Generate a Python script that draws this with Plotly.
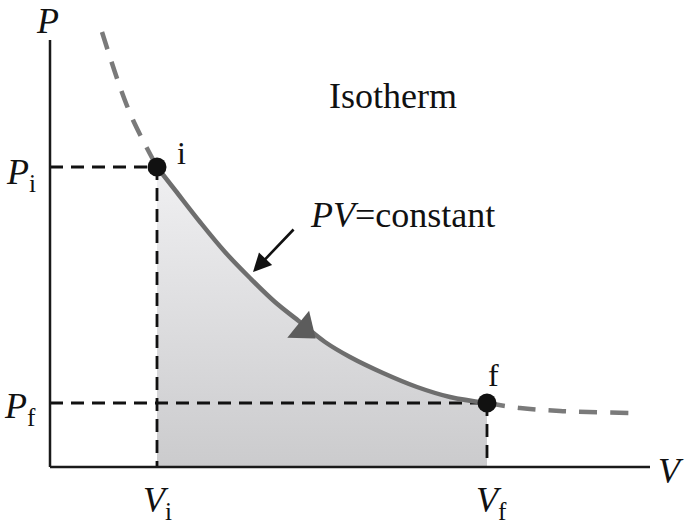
import plotly.graph_objects as go

# ---- data (V, P in arbitrary units) ----
V_i, P_i = 107, 300
V_f, P_f = 437, 64

upper_V = [52, 70, 83, 107]
upper_P = [435, 380, 347, 300]

solid_V = [107, 125, 150, 175, 200, 225, 250, 275, 300, 333, 367, 400, 437]
solid_P = [300, 277, 245, 215, 189, 165, 145, 125, 110, 94, 80, 70, 64]

lower_V = [437, 470, 510, 580]
lower_P = [64, 59, 56, 54]

arrow_V = [254]
arrow_P = [138]

V_max, P_max = 600, 427

SERIF = "Liberation Serif, Times New Roman, serif"

fig = go.Figure()

# shaded work area under the solid isotherm
fig.add_trace(go.Scatter(
    x=solid_V, y=solid_P, mode="lines", line=dict(width=0, shape="spline"),
    fill="tozeroy", fillcolor="#dedee0",
    fillgradient=dict(type="vertical", colorscale=[[0, "#cbcbcd"], [1, "#f0f0f2"]]),
    hoverinfo="skip", showlegend=False))

# axes
fig.add_shape(type="line", x0=0, y0=0, x1=0, y1=P_max, line=dict(color="#1a1a1a", width=2.5))
fig.add_shape(type="line", x0=0, y0=0, x1=V_max, y1=0, line=dict(color="#1a1a1a", width=2.5))

# dashed guide lines
guide = dict(color="#111111", width=2.8, dash="13px,8px")
fig.add_trace(go.Scatter(x=[0, V_i], y=[P_i, P_i], mode="lines", line=guide, showlegend=False, hoverinfo="skip"))
fig.add_trace(go.Scatter(x=[0, V_f], y=[P_f, P_f], mode="lines", line=guide, showlegend=False, hoverinfo="skip"))
fig.add_trace(go.Scatter(x=[V_i, V_i], y=[P_i, 0], mode="lines", line=guide, showlegend=False, hoverinfo="skip"))
fig.add_trace(go.Scatter(x=[V_f, V_f], y=[P_f, 0], mode="lines", line=guide, showlegend=False, hoverinfo="skip"))

# isotherm curve
dash_line = dict(color="#7a7a7a", width=4.5, dash="18px,13px", shape="spline")
fig.add_trace(go.Scatter(x=upper_V, y=upper_P, mode="lines", line=dash_line, showlegend=False, hoverinfo="skip"))
fig.add_trace(go.Scatter(x=lower_V, y=lower_P, mode="lines", line=dash_line, showlegend=False, hoverinfo="skip"))
fig.add_trace(go.Scatter(x=solid_V, y=solid_P, mode="lines",
                         line=dict(color="#6e6e6e", width=4.5, shape="spline"),
                         showlegend=False, hoverinfo="skip"))

# direction arrowhead on the curve
fig.add_trace(go.Scatter(x=arrow_V, y=arrow_P, mode="markers",
                         marker=dict(symbol="triangle-right", size=30, angle=39, color="#5c5c5c",
                                     line=dict(width=0)),
                         showlegend=False, hoverinfo="skip"))

# state points
fig.add_trace(go.Scatter(x=[V_i, V_f], y=[P_i, P_f], mode="markers",
                         marker=dict(size=19, color="#111111"), showlegend=False, hoverinfo="skip"))

ann = []
def label(x, y, text, size=36, xanchor="center", yanchor="middle"):
    ann.append(dict(x=x, y=y, xref="x", yref="y", text=text, showarrow=False,
                    font=dict(family=SERIF, size=size, color="#111111"),
                    xanchor=xanchor, yanchor=yanchor))

label(-3, 446, "<i>P</i>")
label(-12, P_i - 7, "<i>P</i><sub>i</sub>", xanchor="right")
label(-12, P_f - 5, "<i>P</i><sub>f</sub>", xanchor="right")
label(V_i, -35, "<i>V</i><sub>i</sub>")
label(V_f + 4, -35, "<i>V</i><sub>f</sub>")
label(621, -4, "<i>V</i>")
label(131, 314, "i", size=32, xanchor="center")
label(443, 92, "f", size=32, xanchor="center")
label(343, 371, "Isotherm")
label(352, 252, "<i>PV</i>=constant")

# pointer arrow to the curve
ann.append(dict(x=203, y=195, xref="x", yref="y", ax=42, ay=-44, axref="pixel", ayref="pixel",
                text="", showarrow=True, arrowhead=2, arrowsize=1.4, arrowwidth=2.6,
                arrowcolor="#111111", standoff=0))

fig.update_layout(
    width=685, height=531,
    margin=dict(l=0, r=0, t=0, b=0),
    paper_bgcolor="white", plot_bgcolor="white",
    xaxis=dict(range=[-50, 635], visible=False, fixedrange=True),
    yaxis=dict(range=[-64, 467], visible=False, fixedrange=True),
    annotations=ann,
    showlegend=False,
    hovermode=False,
)

# remove the default page margin so the figure sits at the window's top-left corner
fig.write_html("out.html",
               config={"displayModeBar": False, "staticPlot": True},
               post_script="document.body.style.margin='0';document.body.style.overflow='hidden';")
